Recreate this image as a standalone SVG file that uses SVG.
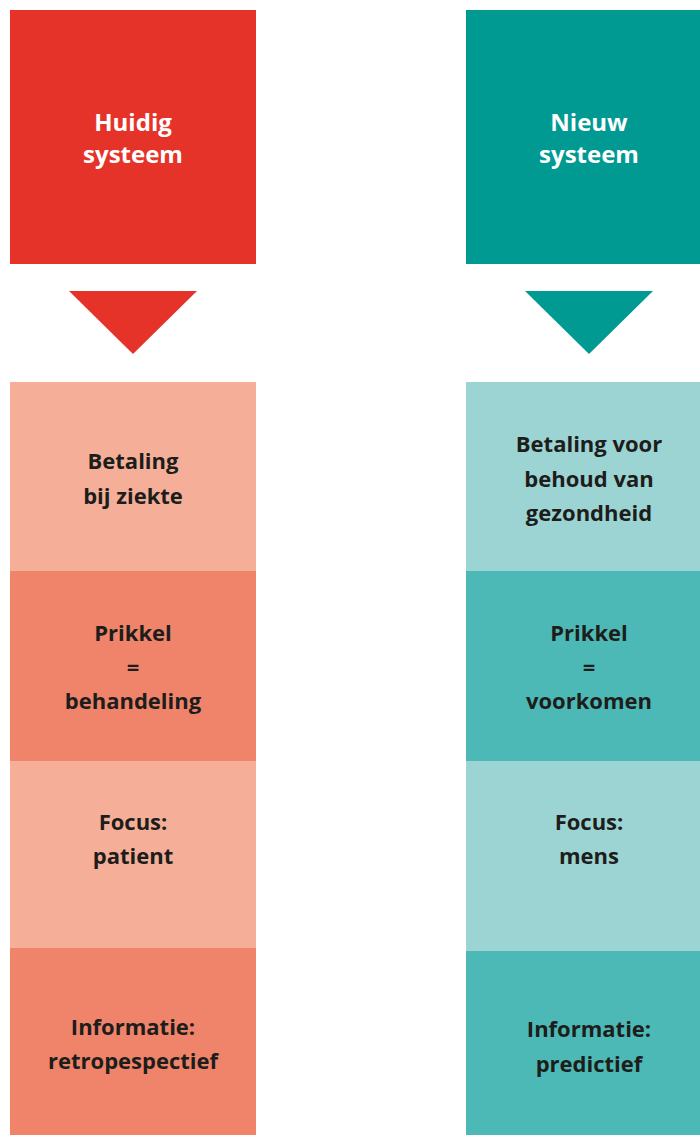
<svg xmlns="http://www.w3.org/2000/svg" width="700" height="1135" viewBox="0 0 700 1135">
<style>
.h{font-family:"Open Sans","Noto Sans","Liberation Sans",sans-serif;font-weight:700;font-size:24px;fill:#ffffff;text-anchor:middle}
.t{font-family:"Open Sans","Noto Sans","Liberation Sans",sans-serif;font-weight:700;font-size:22px;fill:#1d1d1b;text-anchor:middle}
</style>
<rect width="700" height="1135" fill="#ffffff"/>
<g id="huidig">
<rect x="10" y="10" width="246" height="254" fill="#e6332a"/>
<text class="h" x="133" y="131">Huidig</text>
<text class="h" x="133" y="163">systeem</text>
</g>
<g id="nieuw">
<rect x="466" y="10" width="234" height="254" fill="#009a93"/>
<text class="h" x="589" y="131">Nieuw</text>
<text class="h" x="589" y="163">systeem</text>
</g>
<g id="connectors">
<polygon points="69,291 197,291 133,354" fill="#e6332a"/>
<polygon points="525,291 653,291 589,354" fill="#009a93"/>
</g>
<g id="l1">
<rect x="10" y="382" width="246" height="189" fill="#f5af99"/>
<text class="t" x="133" y="469">Betaling</text>
<text class="t" x="133" y="504">bij ziekte</text>
</g>
<g id="l2">
<rect x="10" y="571" width="246" height="190" fill="#f0846a"/>
<text class="t" x="133" y="641">Prikkel</text>
<text class="t" x="133" y="675">=</text>
<text class="t" x="133" y="709">behandeling</text>
</g>
<g id="l3">
<rect x="10" y="761" width="246" height="187" fill="#f5af99"/>
<text class="t" x="133" y="830">Focus:</text>
<text class="t" x="133" y="864">patient</text>
</g>
<g id="l4">
<rect x="10" y="948" width="246" height="187" fill="#f0846a"/>
<text class="t" x="133" y="1035">Informatie:</text>
<text class="t" x="133" y="1069">retropespectief</text>
</g>
<g id="r1">
<rect x="466" y="382" width="234" height="189" fill="#9cd3d3"/>
<text class="t" x="589" y="452">Betaling voor</text>
<text class="t" x="589" y="487">behoud van</text>
<text class="t" x="589" y="521">gezondheid</text>
</g>
<g id="r2">
<rect x="466" y="571" width="234" height="190" fill="#4db9b6"/>
<text class="t" x="589" y="641">Prikkel</text>
<text class="t" x="589" y="675">=</text>
<text class="t" x="589" y="709">voorkomen</text>
</g>
<g id="r3">
<rect x="466" y="761" width="234" height="190" fill="#9cd3d3"/>
<text class="t" x="589" y="830">Focus:</text>
<text class="t" x="589" y="864">mens</text>
</g>
<g id="r4">
<rect x="466" y="951" width="234" height="184" fill="#4db9b6"/>
<text class="t" x="589" y="1037">Informatie:</text>
<text class="t" x="589" y="1072">predictief</text>
</g>
</svg>
